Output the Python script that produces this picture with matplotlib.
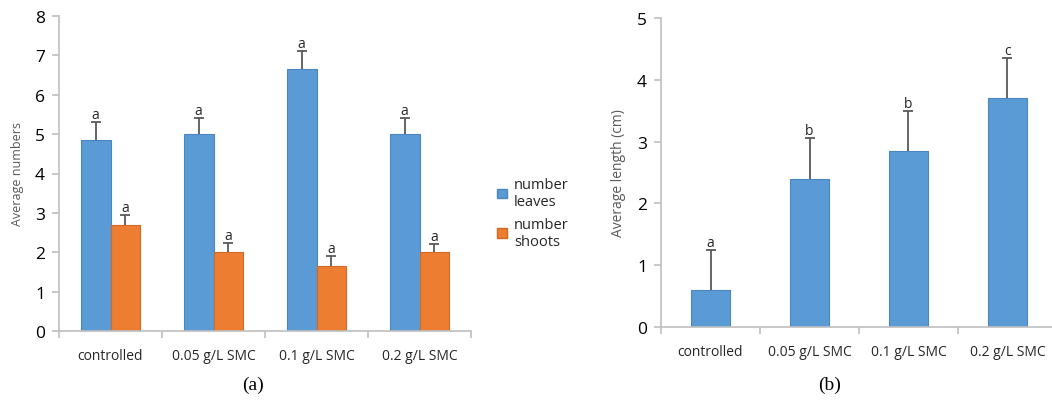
import matplotlib.pyplot as plt
import matplotlib.patches as mpatches
import numpy as np

plt.rcParams['font.family'] = ['Open Sans', 'DejaVu Sans']

# treatments
categories = ['controlled', '0.05 g/L SMC', '0.1 g/L SMC', '0.2 g/L SMC']

# (a) average numbers
leaves = [4.85, 5.0, 6.65, 5.0]
leaves_err = [0.45, 0.42, 0.45, 0.4]
leaves_sig = ['a', 'a', 'a', 'a']
shoots = [2.7, 2.0, 1.65, 2.0]
shoots_err = [0.25, 0.23, 0.25, 0.2]
shoots_sig = ['a', 'a', 'a', 'a']

# (b) average length (cm)
length = [0.6, 2.4, 2.85, 3.7]
length_err = [0.65, 0.66, 0.65, 0.65]
length_sig = ['a', 'b', 'b', 'c']

blue = '#5B9BD5'
orange = '#ED7D31'
spine_col = '#BFBFBF'

fig = plt.figure(figsize=(10.52, 4.02), dpi=100)
ax1 = fig.add_axes([59 / 1052, 1 - 332 / 402, 412 / 1052, 315 / 402])
ax2 = fig.add_axes([661 / 1052, 1 - 328 / 402, 396 / 1052, 309 / 402])


def style_axis(ax, ymax):
    x = np.arange(len(categories))
    ax.set_xlim(-0.5, len(categories) - 0.5)
    ax.set_ylim(0, ymax)
    ax.set_yticks(range(ymax + 1))
    ax.set_xticks(np.arange(-0.5, len(categories)), minor=False)
    ax.set_xticklabels([])
    ax.set_xticks(x, minor=True)
    ax.set_xticklabels(categories, minor=True, fontsize=10, color='#262626')
    ax.tick_params(axis='x', which='minor', length=0, pad=12)
    ax.tick_params(axis='x', which='major', length=5, color=spine_col, width=1.2)
    ax.tick_params(axis='y', length=5, color=spine_col, width=1.2, labelsize=12.5, pad=5)
    for s in ['top', 'right']:
        ax.spines[s].set_visible(False)
    for s in ['left', 'bottom']:
        ax.spines[s].set_color(spine_col)
        ax.spines[s].set_linewidth(1.2)


def draw_bars(ax, xs, vals, errs, sigs, width, color, edge):
    ax.bar(xs, vals, width, color=color, edgecolor=edge, linewidth=0.8, zorder=2)
    tops = np.array(vals) + np.array(errs)
    # one-sided error bars: stem from bar top plus a cap at the upper end only
    ax.vlines(xs, vals, tops, color='#595959', linewidth=1.3, zorder=3)
    ax.plot(xs, tops, linestyle='none', marker='_', markersize=7,
            markeredgewidth=1.3, color='#595959', zorder=3)
    for xi, t, s in zip(xs, tops, sigs):
        ax.annotate(s, (xi, t), xytext=(0, 0), textcoords='offset points',
                    ha='center', va='bottom', fontsize=10, color='#262626')


# (a)
x = np.arange(len(categories))
w = 0.29
style_axis(ax1, 8)
draw_bars(ax1, x - w / 2, leaves, leaves_err, leaves_sig, w, blue, '#4A86C0')
draw_bars(ax1, x + w / 2, shoots, shoots_err, shoots_sig, w, orange, '#D06A25')
ax1.set_ylabel('Average numbers', fontsize=9, color='#595959', labelpad=8)

handles = [mpatches.Patch(facecolor=blue, edgecolor='#4A86C0', label='number\nleaves'),
           mpatches.Patch(facecolor=orange, edgecolor='#D06A25', label='number\nshoots')]
fig.legend(handles=handles, loc='upper left', bbox_to_anchor=(484 / 1052, 1 - 165 / 402),
           frameon=False, fontsize=10.5, handlelength=0.65, handleheight=0.65,
           handletextpad=0.5, labelspacing=0.5, labelcolor='#262626')

# (b)
style_axis(ax2, 5)
draw_bars(ax2, x, length, length_err, length_sig, 0.4, blue, '#4A86C0')
ax2.set_ylabel('Average length (cm)', fontsize=10, color='#595959', labelpad=8)

fig.text(253 / 1052, 1 - 385 / 402, '(a)', ha='center', va='center',
         fontsize=14, family='Liberation Serif')
fig.text(830 / 1052, 1 - 385 / 402, '(b)', ha='center', va='center',
         fontsize=14, family='Liberation Serif')

fig.savefig('out.png', dpi=100)
